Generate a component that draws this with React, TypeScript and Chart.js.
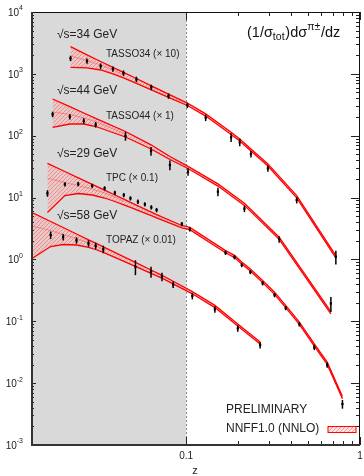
import { useEffect, useRef } from "react";
import { Chart, registerables } from "chart.js";

Chart.register(...registerables);

// ---- axes ----
const X_MIN = 0.013;
const X_MAX = 1;
const Y_MIN = 1e-3;
const Y_MAX = 1e4;
const yDecades = [-3, -2, -1, 0, 1, 2, 3, 4];
const xTickValues = [0.1, 1];
const xTickText = ["0.1", "1"];
const xMinorTicks = [0.2, 0.3, 0.4, 0.5, 0.6, 0.7, 0.8, 0.9];
const shadeLimit = 0.1;

// ---- TASSO 34 GeV (x 10) ----
const tasso34Z = [0.02165, 0.02693, 0.03226, 0.03793, 0.04365, 0.05181, 0.0631, 0.07924, 0.1017, 0.1296, 0.1815, 0.2035, 0.236, 0.2954, 0.4325, 0.7264];
const tasso34Val = [1784, 1614, 1340, 1198, 1032, 817, 606, 439, 310, 195.6, 94.3, 78.3, 50.6, 29.7, 9.14, 1.107];
const tasso34Err = [0.1, 0.1, 0.1, 0.1, 0.1, 0.1, 0.1, 0.1, 0.1, 0.12, 0.16, 0.14, 0.12, 0.12, 0.12, 0.25];
const tasso34Upper = [2748, 2033, 1584, 1276, 1060, 841, 641, 469, 337, 225.3, 114.0, 88.8, 61.2, 35.0, 10.76, 1.153];
const tasso34Lower = [1276, 1253, 1155, 1002, 860, 704, 552, 416, 308, 207.6, 105.0, 81.8, 56.4, 32.3, 9.92, 1.063];
const tasso34CenterZ = [0.02165, 0.02693, 0.03226, 0.03793, 0.04365];
const tasso34Center = [1944, 1644, 1391, 1163, 958];

// ---- TASSO 44 GeV (x 1) ----
const tasso44Z = [0.01708, 0.02145, 0.0258, 0.0302, 0.04481, 0.06285, 0.08071, 0.1026, 0.1524, 0.2165, 0.343, 0.6801];
const tasso44Val = [221.9, 203.0, 174.2, 150.7, 98.9, 56.6, 33.6, 26.2, 12.45, 6.61, 2.124, 0.194];
const tasso44Err = [0.1, 0.1, 0.1, 0.1, 0.16, 0.16, 0.18, 0.14, 0.16, 0.12, 0.12, 0.27];
const tasso44Upper = [392.4, 294.5, 232.9, 191.2, 117.0, 71.3, 46.1, 32.0, 16.64, 8.11, 2.288, 0.1434];
const tasso44Lower = [136.8, 154.7, 154.7, 140.9, 95.3, 61.0, 41.3, 29.5, 15.33, 7.47, 2.108, 0.1322];
const tasso44CenterZ = [0.01708, 0.02145, 0.0258, 0.0302, 0.04481];
const tasso44Center = [241.8, 220.3, 193.4, 169.7, 106.6];

// ---- TPC 29 GeV (x 0.1) ----
const tpcZ = [0.01595, 0.02009, 0.02399, 0.02884, 0.034, 0.03894, 0.04382, 0.04786, 0.05284, 0.05793, 0.0631, 0.06766, 0.0945, 0.105, 0.1686, 0.1898, 0.2089, 0.2342, 0.2754, 0.3226, 0.3738, 0.4481, 0.5459, 0.6477, 0.7925];
const tpcVal = [11.73, 16.45, 16.58, 15.56, 14.12, 11.99, 11.0, 9.73, 8.58, 7.78, 6.96, 6.3, 3.739, 3.07, 1.285, 1.087, 0.813, 0.626, 0.413, 0.266, 0.164, 0.0894, 0.038, 0.01965, 0.0046];
const tpcErr = [0.12, 0.08, 0.08, 0.08, 0.08, 0.08, 0.08, 0.08, 0.08, 0.08, 0.08, 0.08, 0.08, 0.08, 0.08, 0.08, 0.08, 0.08, 0.08, 0.08, 0.08, 0.08, 0.1, 0.1, 0.16];
const tpcUpper = [35.83, 26.4, 20.88, 16.39, 13.16, 11.0, 9.41, 8.39, 7.36, 6.51, 5.82, 5.31, 3.536, 3.295, 1.389, 1.162, 0.912, 0.703, 0.458, 0.2953, 0.1806, 0.0967, 0.0431, 0.02182, 0.00606];
const tpcLower = [5.74, 10.8, 11.64, 11.0, 9.84, 8.64, 7.64, 6.96, 6.23, 5.61, 5.09, 4.69, 3.235, 3.036, 1.28, 1.07, 0.841, 0.648, 0.422, 0.272, 0.1665, 0.0891, 0.0397, 0.02009, 0.00558];
const tpcCenterZ = [0.01595, 0.02009, 0.02399, 0.02884, 0.034, 0.03894, 0.04382];
const tpcCenter = [20.49, 17.52, 15.56, 13.76, 11.86, 10.22, 8.64];

// ---- TOPAZ 58 GeV (x 0.01) ----
const topazZ = [0.01664, 0.01964, 0.02343, 0.02747, 0.0302, 0.03342, 0.05113, 0.06285, 0.07264, 0.08427, 0.1086, 0.1464, 0.1982, 0.2665];
const topazVal = [2.483, 2.305, 2.039, 1.823, 1.661, 1.464, 0.763, 0.633, 0.526, 0.3934, 0.2563, 0.1563, 0.077, 0.0414];
const topazErr = [0.14, 0.12, 0.12, 0.12, 0.12, 0.14, 0.27, 0.2, 0.16, 0.12, 0.12, 0.12, 0.12, 0.12];
const topazBandZ = [0.01301, 0.01664, 0.01964, 0.02343, 0.02747, 0.0302, 0.03342, 0.05113, 0.06285, 0.07264, 0.08427, 0.1086, 0.1464, 0.1982, 0.2665];
const topazUpper = [5.74, 4.104, 3.282, 2.578, 2.077, 1.83, 1.594, 0.895, 0.675, 0.554, 0.4446, 0.302, 0.1806, 0.0907, 0.0464];
const topazLower = [1.035, 1.618, 1.743, 1.711, 1.571, 1.447, 1.299, 0.772, 0.597, 0.499, 0.4036, 0.278, 0.1665, 0.0836, 0.0428];
const topazCenterZ = [0.01301, 0.01664, 0.01964, 0.02343, 0.02747, 0.0302, 0.03342];
const topazCenter = [3.471, 2.936, 2.53, 2.18, 1.844, 1.649, 1.447];

// ---- texts ----
const energyLabels = ["√s=34 GeV", "√s=44 GeV", "√s=29 GeV", "√s=58 GeV"];
const expLabels = ["TASSO34 (× 10)", "TASSO44 (× 1)", "TPC (× 0.1)", "TOPAZ (× 0.01)"];
const prelimText = "PRELIMINARY";
const legendText = "NNFF1.0 (NNLO)";

const FONT = "'Liberation Sans', Arial, Helvetica, sans-serif";
const RED = "#ff0000";

const pts = (xs: number[], ys: number[]) => xs.map((x, i) => ({ x, y: ys[i] }));

function makeHatch(): CanvasPattern | string {
  const c = document.createElement("canvas");
  c.width = 4;
  c.height = 4;
  const g = c.getContext("2d");
  if (!g) return "rgba(255,120,120,0.4)";
  g.fillStyle = "rgba(255,175,175,0.35)";
  g.fillRect(0, 0, 4, 4);
  g.strokeStyle = "rgba(255,70,70,0.6)";
  g.lineWidth = 0.8;
  g.beginPath();
  g.moveTo(0, 4); g.lineTo(4, 0);
  g.moveTo(-1, 1); g.lineTo(1, -1);
  g.moveTo(3, 5); g.lineTo(5, 3);
  g.stroke();
  return g.createPattern(c, "repeat") || "rgba(255,120,120,0.4)";
}

export default function App() {
  const ref = useRef<HTMLCanvasElement | null>(null);

  useEffect(() => {
    if (!ref.current) return;
    const hatch = makeHatch();

    const pointSets = [
      { z: tasso34Z, v: tasso34Val, e: tasso34Err },
      { z: tasso44Z, v: tasso44Val, e: tasso44Err },
      { z: tpcZ, v: tpcVal, e: tpcErr },
      { z: topazZ, v: topazVal, e: topazErr },
    ];
    const bandSets = [
      { z: tasso34Z, up: tasso34Upper, lo: tasso34Lower, cz: tasso34CenterZ, c: tasso34Center },
      { z: tasso44Z, up: tasso44Upper, lo: tasso44Lower, cz: tasso44CenterZ, c: tasso44Center },
      { z: tpcZ, up: tpcUpper, lo: tpcLower, cz: tpcCenterZ, c: tpcCenter },
      { z: topazBandZ, up: topazUpper, lo: topazLower, cz: topazCenterZ, c: topazCenter },
    ];

    const datasets: any[] = [];
    pointSets.forEach((p) => {
      datasets.push({
        data: pts(p.z, p.v),
        showLine: false,
        pointStyle: "rect",
        pointRadius: 1.6,
        pointBorderWidth: 0,
        pointBackgroundColor: "#000",
        borderColor: "#000",
        backgroundColor: "#000",
        isPoints: true,
        errs: p.e,
      });
    });
    bandSets.forEach((b) => {
      datasets.push({
        data: pts(b.cz, b.c),
        borderColor: "rgba(255,80,80,0.7)",
        borderWidth: 0.8,
        pointRadius: 0,
        fill: false,
      });
      datasets.push({
        data: pts(b.z, b.up),
        borderColor: RED,
        borderWidth: 1.3,
        pointRadius: 0,
        fill: false,
      });
      datasets.push({
        data: pts(b.z, b.lo),
        borderColor: RED,
        borderWidth: 1.3,
        pointRadius: 0,
        fill: "-1",
        backgroundColor: hatch,
      });
    });

    const decor = {
      id: "decor",
      beforeDatasetsDraw(chart: any) {
        const { ctx, chartArea: a, scales } = chart;
        const xs = scales.x.getPixelForValue(shadeLimit);
        ctx.save();
        ctx.fillStyle = "#d9d9d9";
        ctx.fillRect(a.left, a.top, xs - a.left, a.bottom - a.top);
        ctx.strokeStyle = "#8a8a8a";
        ctx.lineWidth = 1;
        ctx.setLineDash([2, 2]);
        ctx.beginPath();
        ctx.moveTo(Math.round(xs) + 0.5, a.top);
        ctx.lineTo(Math.round(xs) + 0.5, a.bottom);
        ctx.stroke();
        ctx.restore();
      },
      afterDatasetsDraw(chart: any) {
        const { ctx, chartArea: a, scales } = chart;
        const sx = scales.x, sy = scales.y;
        ctx.save();
        ctx.beginPath();
        ctx.rect(a.left, a.top, a.right - a.left, a.bottom - a.top);
        ctx.clip();
        ctx.strokeStyle = "#000";
        ctx.lineWidth = 1.5;
        chart.data.datasets.forEach((ds: any) => {
          if (!ds.isPoints) return;
          ds.data.forEach((p: any, i: number) => {
            const e = ds.errs[i];
            const px = sx.getPixelForValue(p.x);
            const y1 = sy.getPixelForValue(p.y * (1 + e));
            const y2 = sy.getPixelForValue(p.y * (1 - e));
            ctx.beginPath();
            ctx.moveTo(px, y1);
            ctx.lineTo(px, y2);
            ctx.stroke();
          });
        });
        ctx.restore();
      },
      afterDraw(chart: any) {
        const { ctx, chartArea: a, scales } = chart;
        const sx = scales.x, sy = scales.y;
        ctx.save();
        // ticks
        ctx.strokeStyle = "#222";
        ctx.lineWidth = 1;
        for (let d = -3; d <= 4; d++) {
          for (let m = 1; m <= 9; m++) {
            const v = m * Math.pow(10, d);
            if (v < Y_MIN || v > Y_MAX) continue;
            const py = Math.round(sy.getPixelForValue(v)) + 0.5;
            const major = m === 1;
            ctx.beginPath();
            ctx.moveTo(a.right, py);
            ctx.lineTo(a.right - (major ? 9 : 4), py);
            ctx.moveTo(a.left, py);
            ctx.lineTo(a.left + (major ? 4 : 2), py);
            ctx.stroke();
          }
        }
        const xTicks = [...xTickValues.map((v) => ({ v, major: true })), ...xMinorTicks.map((v) => ({ v, major: false }))];
        xTicks.forEach((t) => {
          const px = Math.round(sx.getPixelForValue(t.v)) + 0.5;
          const len = t.major ? 8 : 4;
          ctx.beginPath();
          ctx.moveTo(px, a.bottom);
          ctx.lineTo(px, a.bottom - len);
          ctx.moveTo(px, a.top);
          ctx.lineTo(px, a.top + len);
          ctx.stroke();
        });
        // frame
        ctx.strokeStyle = "#111";
        ctx.lineWidth = 1;
        ctx.beginPath();
        ctx.moveTo(a.left, a.top + 0.5);
        ctx.lineTo(a.right, a.top + 0.5);
        ctx.moveTo(a.right - 0.5, a.top);
        ctx.lineTo(a.right - 0.5, a.bottom);
        ctx.stroke();
        ctx.strokeStyle = "#333";
        ctx.lineWidth = 2;
        ctx.beginPath();
        ctx.moveTo(a.left, a.top);
        ctx.lineTo(a.left, a.bottom + 1);
        ctx.moveTo(a.left - 1, a.bottom);
        ctx.lineTo(a.right, a.bottom);
        ctx.stroke();

        // y labels
        ctx.fillStyle = "#222";
        ctx.textBaseline = "middle";
        yDecades.forEach((d) => {
          const py = sy.getPixelForValue(Math.pow(10, d));
          ctx.font = `10px ${FONT}`;
          const wb = ctx.measureText("10").width;
          ctx.font = `7px ${FONT}`;
          const es = String(d);
          const we = ctx.measureText(es).width;
          const x0 = 23 - wb - we;
          ctx.font = `10px ${FONT}`;
          ctx.textAlign = "left";
          ctx.fillText("10", x0, py + 1);
          ctx.font = `7px ${FONT}`;
          ctx.fillText(es, x0 + wb, py - 3.5);
        });
        // x labels
        ctx.font = `10px ${FONT}`;
        ctx.textAlign = "center";
        xTickValues.forEach((v, i) => {
          ctx.fillText(xTickText[i], sx.getPixelForValue(v), 456);
        });
        ctx.font = `11px ${FONT}`;
        ctx.fillText("z", 195, 471);

        // series labels
        ctx.textAlign = "left";
        const eY = [35, 90.7, 154, 215.7];
        const lY = [54.3, 116.7, 178.3, 240];
        energyLabels.forEach((t, i) => {
          ctx.font = `12px ${FONT}`;
          ctx.fillText(t, 57, eY[i]);
          ctx.font = `10px ${FONT}`;
          ctx.fillText(expLabels[i], 106, lY[i]);
        });
        ctx.font = `12px ${FONT}`;
        ctx.fillText(prelimText, 226, 410);
        ctx.fillText(legendText, 226, 429);
        // legend box
        ctx.fillStyle = "#ffffff";
        ctx.fillRect(328, 426.5, 28, 6);
        ctx.fillStyle = hatch as any;
        ctx.fillRect(328, 426.5, 28, 6);
        ctx.strokeStyle = RED;
        ctx.lineWidth = 1;
        ctx.strokeRect(328, 426.5, 28, 6);

        // title (1/σ_tot) dσ^{π±}/dz
        ctx.fillStyle = "#111";
        ctx.textBaseline = "alphabetic";
        const parts = [
          { t: "(1/σ", s: 14.5, dy: 0 },
          { t: "tot", s: 10.5, dy: 3 },
          { t: ")dσ", s: 14.5, dy: 0 },
          { t: "π±", s: 10.5, dy: -6.5 },
          { t: "/dz", s: 14.5, dy: 0 },
        ];
        let tx = 247;
        parts.forEach((p) => {
          ctx.font = `${p.s}px ${FONT}`;
          ctx.fillText(p.t, tx, 36.5 + p.dy);
          tx += ctx.measureText(p.t).width + (p.s < 12 ? 0.8 : 0);
        });
        ctx.restore();
      },
    };

    const chart = new Chart(ref.current, {
      type: "line",
      data: { datasets },
      options: {
        animation: false,
        responsive: false,
        maintainAspectRatio: false,
        layout: { padding: { top: 12, right: 2, left: 0, bottom: 0 } },
        plugins: { legend: { display: false }, tooltip: { enabled: false } },
        elements: { line: { tension: 0 } },
        scales: {
          x: {
            type: "logarithmic",
            min: X_MIN,
            max: X_MAX,
            ticks: { display: false },
            grid: { display: false },
            border: { display: false },
            afterFit: (s: any) => { s.height = 31; },
          },
          y: {
            type: "logarithmic",
            min: Y_MIN,
            max: Y_MAX,
            ticks: { display: false },
            grid: { display: false },
            border: { display: false },
            afterFit: (s: any) => { s.width = 32; },
          },
        },
      } as any,
      plugins: [decor],
    });
    return () => chart.destroy();
  }, []);

  return (
    <div style={{ position: "absolute", left: 0, top: 0, width: 364, height: 476, background: "#fff" }}>
      <canvas ref={ref} width={364} height={476} style={{ display: "block" }} />
    </div>
  );
}
